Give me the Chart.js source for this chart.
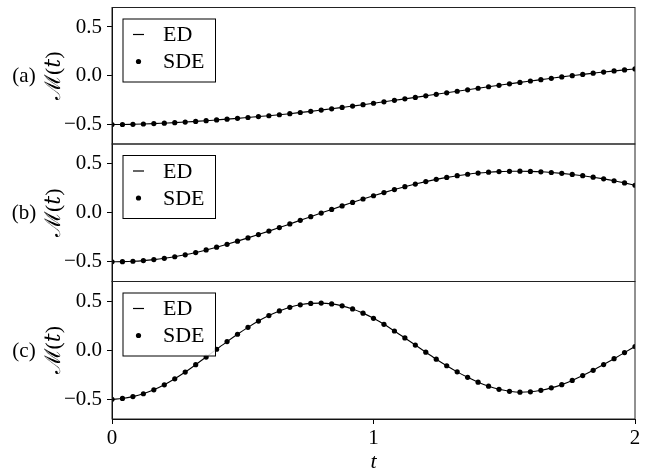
<!DOCTYPE html>
<html>
<head>
<meta charset="utf-8">
<script src="https://cdn.jsdelivr.net/npm/chart.js@4.4.1/dist/chart.umd.min.js"></script>
<style>
    body { margin: 0; background: #fff; }
    #wrap { position: relative; width: 651px; height: 472px; overflow: hidden; }
    #wrap canvas { position: absolute; left: 0; top: 0; }
</style>
</head>
<body>
<div id="wrap">
    <canvas id="panelA" width="651" height="480"></canvas>
    <canvas id="panelB" width="651" height="480"></canvas>
    <canvas id="panelC" width="651" height="480"></canvas>
</div>
<script>
const times = [0, 0.04, 0.08, 0.12, 0.16, 0.2, 0.24, 0.28, 0.32, 0.36,
    0.4, 0.44, 0.48, 0.52, 0.56, 0.6, 0.64, 0.68, 0.72, 0.76,
    0.8, 0.84, 0.88, 0.92, 0.96, 1, 1.04, 1.08, 1.12, 1.16,
    1.2, 1.24, 1.28, 1.32, 1.36, 1.4, 1.44, 1.48, 1.52, 1.56,
    1.6, 1.64, 1.68, 1.72, 1.76, 1.8, 1.84, 1.88, 1.92, 1.96, 2];

const magA = [-0.500, -0.500, -0.498, -0.495, -0.491, -0.486, -0.481, -0.475, -0.468, -0.461,
    -0.453, -0.445, -0.437, -0.428, -0.419, -0.410, -0.400, -0.389, -0.377, -0.365,
    -0.352, -0.339, -0.325, -0.311, -0.297, -0.282, -0.267, -0.252, -0.237, -0.222,
    -0.206, -0.190, -0.175, -0.159, -0.144, -0.128, -0.113, -0.098, -0.083, -0.068,
    -0.054, -0.040, -0.026, -0.012, 0.001, 0.014, 0.026, 0.038, 0.049, 0.060, 0.070];

const magB = [-0.500, -0.498, -0.494, -0.487, -0.477, -0.464, -0.448, -0.428, -0.405, -0.379,
    -0.351, -0.321, -0.289, -0.256, -0.222, -0.187, -0.151, -0.114, -0.077, -0.040,
    -0.003, 0.034, 0.070, 0.105, 0.140, 0.173, 0.205, 0.236, 0.265, 0.292,
    0.317, 0.340, 0.360, 0.377, 0.392, 0.404, 0.413, 0.419, 0.422, 0.423,
    0.421, 0.417, 0.410, 0.401, 0.390, 0.377, 0.362, 0.345, 0.326, 0.304, 0.280];

const magC = [-0.500, -0.491, -0.472, -0.443, -0.403, -0.352, -0.291, -0.222, -0.147, -0.069,
    0.010, 0.088, 0.163, 0.233, 0.297, 0.353, 0.400, 0.437, 0.463, 0.477,
    0.480, 0.472, 0.452, 0.421, 0.378, 0.325, 0.264, 0.196, 0.125, 0.053,
    -0.020, -0.091, -0.158, -0.220, -0.276, -0.325, -0.366, -0.398, -0.418, -0.427,
    -0.423, -0.408, -0.383, -0.350, -0.307, -0.258, -0.204, -0.146, -0.086, -0.024, 0.038];

const xTicks = [0, 1, 2];
const xTickLabels = ['0', '1', '2'];
const yTicks = [-0.5, 0, 0.5];
const yTickLabels = ['\u22120.5', '0.0', '0.5'];
const seriesNames = ['ED', 'SDE'];

const serif = "'Liberation Serif', 'DejaVu Serif', serif";

function toPoints(values) {
    return values.map((v, i) => ({ x: times[i], y: v }));
}

// frame, inset legend and the (a)/(b)/(c) tag
const panelDecor = {
    id: 'panelDecor',
    afterDatasetsDraw(chart, args, opts) {
        const { ctx, chartArea: area } = chart;
        ctx.save();

        ctx.strokeStyle = '#222';
        ctx.lineWidth = 1;
        ctx.strokeRect(area.left, area.top, area.right - area.left, area.bottom - area.top);

        const bx = area.left + 11, by = area.top + 11.5, bw = 92.5, bh = 63;
        ctx.fillStyle = 'rgba(255,255,255,0.85)';
        ctx.fillRect(bx, by, bw, bh);
        ctx.strokeStyle = '#000';
        ctx.strokeRect(bx, by, bw, bh);

        ctx.fillStyle = '#000';
        ctx.font = '22px ' + serif;
        ctx.textBaseline = 'middle';
        ctx.textAlign = 'left';

        const rowY = [by + 15.5, by + 42.5];
        ctx.beginPath();
        ctx.moveTo(bx + 10, rowY[0]);
        ctx.lineTo(bx + 21, rowY[0]);
        ctx.lineWidth = 1.2;
        ctx.stroke();
        ctx.fillText(seriesNames[0], bx + 40, rowY[0] + 1);

        ctx.beginPath();
        ctx.arc(bx + 15.5, rowY[1], 2.6, 0, Math.PI * 2);
        ctx.fill();
        ctx.fillText(seriesNames[1], bx + 40, rowY[1] + 1);

        ctx.font = '21px ' + serif;
        ctx.textAlign = 'center';
        ctx.fillText(opts.tag, 24, chart.scales.y.getPixelForValue(0) + 1);
        ctx.restore();
    }
};

function makePanel(canvasId, tag, values, areaTop, areaBottom, showX) {
    const xHeight = showX ? 61 : 0;
    return new Chart(document.getElementById(canvasId), {
        type: 'line',
        data: {
            datasets: [
                {
                    label: seriesNames[0],
                    data: toPoints(values),
                    borderColor: '#000',
                    borderWidth: 1.1,
                    pointRadius: 0,
                    cubicInterpolationMode: 'monotone',
                    order: 1
                },
                {
                    label: seriesNames[1],
                    data: toPoints(values),
                    showLine: false,
                    pointRadius: 2.6,
                    pointBorderWidth: 0,
                    pointBackgroundColor: '#000',
                    order: 0
                }
            ]
        },
        options: {
            responsive: false,
            animation: false,
            events: [],
            layout: {
                padding: {
                    left: 0,
                    right: 16,
                    top: areaTop,
                    bottom: 480 - areaBottom - xHeight
                }
            },
            plugins: {
                legend: { display: false },
                tooltip: { enabled: false },
                panelDecor: { tag: tag }
            },
            scales: {
                x: {
                    type: 'linear',
                    min: 0,
                    max: 2,
                    display: showX,
                    afterBuildTicks: s => { s.ticks = xTicks.map(v => ({ value: v })); },
                    afterFit: s => {
                        s.height = xHeight;
                        s.paddingLeft = 0;
                        s.paddingRight = 0;
                    },
                    ticks: {
                        color: '#000',
                        font: { family: serif, size: 21 },
                        padding: 2,
                        maxRotation: 0,
                        callback: (v, i) => xTickLabels[i]
                    },
                    grid: { drawOnChartArea: false, tickLength: 5, color: '#000' },
                    border: { color: '#000' },
                    title: {
                        display: true,
                        text: 't',
                        color: '#000',
                        font: { family: serif, size: 22, style: 'italic' },
                        padding: { top: 0, bottom: 5 }
                    }
                },
                y: {
                    type: 'linear',
                    min: -0.7,
                    max: 0.7,
                    afterBuildTicks: s => { s.ticks = yTicks.map(v => ({ value: v })); },
                    afterFit: s => {
                        s.width = 112;
                        s.paddingTop = 0;
                        s.paddingBottom = 0;
                    },
                    ticks: {
                        color: '#000',
                        font: { family: serif, size: 21 },
                        padding: 5,
                        callback: (v, i) => yTickLabels[i]
                    },
                    grid: { drawOnChartArea: false, tickLength: 5, color: '#000' },
                    border: { color: '#000' },
                    title: {
                        display: true,
                        text: '\u2133(\ud835\udc61)',
                        color: '#000',
                        font: { family: serif, size: 22 },
                        padding: { top: 41, bottom: 0 }
                    }
                }
            }
        },
        plugins: [panelDecor]
    });
}

makePanel('panelA', '(a)', magA, 7.5, 144, false);
makePanel('panelB', '(b)', magB, 144, 281.5, false);
makePanel('panelC', '(c)', magC, 281.5, 419, true);
</script>
</body>
</html>
